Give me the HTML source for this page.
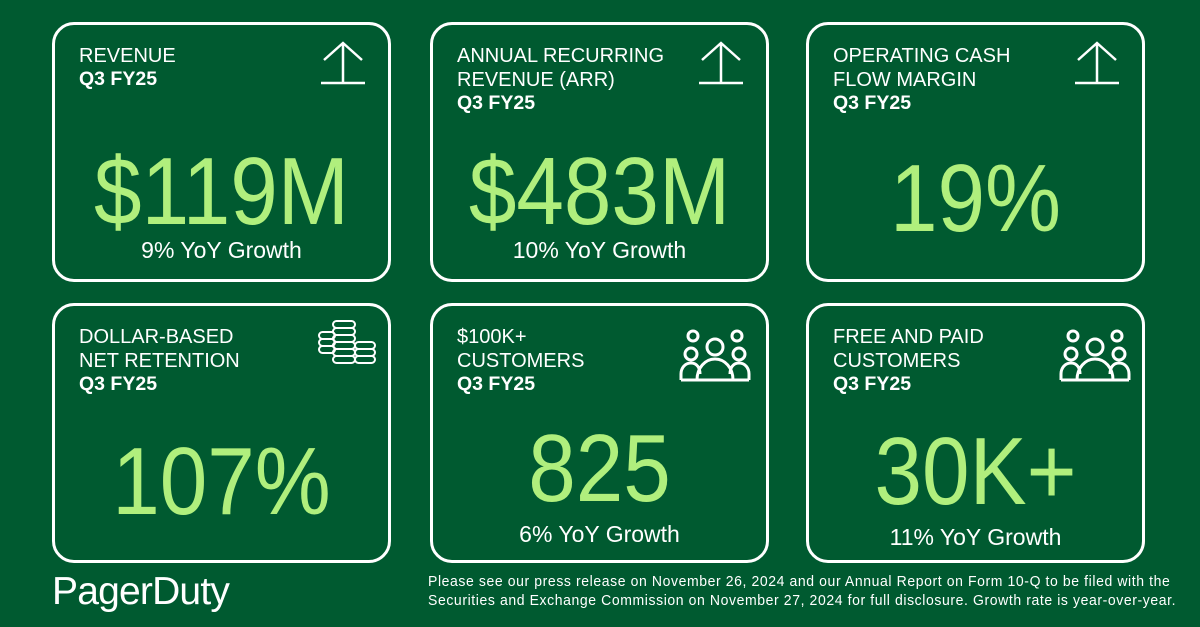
<!DOCTYPE html>
<html><head><meta charset="utf-8"><style>
*{margin:0;padding:0;box-sizing:border-box}
body{width:1200px;height:627px;background:#005a30;font-family:"Liberation Sans",sans-serif;color:#fff;position:relative;overflow:hidden}
.card{position:absolute;border:3px solid #fff;border-radius:22px;width:339px;height:260px}
.lbl{position:absolute;left:24px;top:19px;font-size:20px;line-height:24px}
.lbl b{font-size:19.5px;display:block;line-height:22px}
.big{position:absolute;left:0;right:0;text-align:center;color:#b0ef7d;font-size:96px;line-height:96px;transform:scaleX(0.89)}
.gr{position:absolute;left:0;right:0;text-align:center;font-size:23px;line-height:23px}
.ic{position:absolute}
.disc{position:absolute;left:428px;top:573px;font-size:14.6px;line-height:19px;color:#fff;white-space:nowrap;transform:scaleX(0.96);transform-origin:0 0;letter-spacing:0.62px}
</style></head><body>

<div class="card" style="left:52px;top:22px">
 <div class="lbl">REVENUE<b>Q3 FY25</b></div>
 <svg class="ic" style="left:264px;top:15px" width="48" height="48" viewBox="0 0 48 48" fill="none" stroke="#fff" stroke-width="2.5"><path d="M24 3V42M5 20L24 3L43 20M2 43H46"/></svg>
 <div class="big" style="top:119px">$119M</div>
 <div class="gr" style="top:214px">9% YoY Growth</div>
</div>

<div class="card" style="left:430px;top:22px">
 <div class="lbl">ANNUAL RECURRING<br>REVENUE (ARR)<b>Q3 FY25</b></div>
 <svg class="ic" style="left:264px;top:15px" width="48" height="48" viewBox="0 0 48 48" fill="none" stroke="#fff" stroke-width="2.5"><path d="M24 3V42M5 20L24 3L43 20M2 43H46"/></svg>
 <div class="big" style="top:119px">$483M</div>
 <div class="gr" style="top:214px">10% YoY Growth</div>
</div>

<div class="card" style="left:806px;top:22px">
 <div class="lbl">OPERATING CASH<br>FLOW MARGIN<b>Q3 FY25</b></div>
 <svg class="ic" style="left:264px;top:15px" width="48" height="48" viewBox="0 0 48 48" fill="none" stroke="#fff" stroke-width="2.5"><path d="M24 3V42M5 20L24 3L43 20M2 43H46"/></svg>
 <div class="big" style="top:126px">19%</div>
</div>

<div class="card" style="left:52px;top:303px">
 <div class="lbl">DOLLAR-BASED<br>NET RETENTION<b>Q3 FY25</b></div>
 <svg class="ic" style="left:262px;top:12px" width="62" height="50" viewBox="0 0 62 50" fill="none" stroke="#fff" stroke-width="2">
  <g><rect x="16" y="3" width="22" height="7" rx="3.5"/><rect x="16" y="10" width="22" height="7" rx="3.5"/><rect x="16" y="17" width="22" height="7" rx="3.5"/><rect x="16" y="24" width="22" height="7" rx="3.5"/><rect x="16" y="31" width="22" height="7" rx="3.5"/><rect x="16" y="38" width="22" height="7" rx="3.5"/></g>
  <g><rect x="2" y="14" width="16" height="7" rx="3.5"/><rect x="2" y="21" width="16" height="7" rx="3.5"/><rect x="2" y="28" width="16" height="7" rx="3.5"/></g>
  <g><rect x="38" y="24" width="20" height="7" rx="3.5"/><rect x="38" y="31" width="20" height="7" rx="3.5"/><rect x="38" y="38" width="20" height="7" rx="3.5"/></g>
 </svg>
 <div class="big" style="top:128px">107%</div>
</div>

<div class="card" style="left:430px;top:303px">
 <div class="lbl">$100K+<br>CUSTOMERS<b>Q3 FY25</b></div>
 <svg class="ic" style="left:246px;top:22px" width="72" height="56" viewBox="0 0 72 56" fill="none" stroke="#fff" stroke-width="3">
  <circle cx="14" cy="8" r="5"/><circle cx="58" cy="8" r="5"/>
  <circle cx="36" cy="19" r="8"/><circle cx="12" cy="26" r="6"/><circle cx="60" cy="26" r="6"/>
  <path d="M2 52V46C2 40 6 35 12 35C18 35 21 40 21 46"/><path d="M70 52V46C70 40 66 35 60 35C54 35 51 40 51 46"/>
  <path d="M18 52C18 40 26 31 36 31C46 31 54 40 54 52Z"/><path d="M2 52H70"/>
 </svg>
 <div class="big" style="top:115px">825</div>
 <div class="gr" style="top:217px">6% YoY Growth</div>
</div>

<div class="card" style="left:806px;top:303px">
 <div class="lbl">FREE AND PAID<br>CUSTOMERS<b>Q3 FY25</b></div>
 <svg class="ic" style="left:250px;top:22px" width="72" height="56" viewBox="0 0 72 56" fill="none" stroke="#fff" stroke-width="3">
  <circle cx="14" cy="8" r="5"/><circle cx="58" cy="8" r="5"/>
  <circle cx="36" cy="19" r="8"/><circle cx="12" cy="26" r="6"/><circle cx="60" cy="26" r="6"/>
  <path d="M2 52V46C2 40 6 35 12 35C18 35 21 40 21 46"/><path d="M70 52V46C70 40 66 35 60 35C54 35 51 40 51 46"/>
  <path d="M18 52C18 40 26 31 36 31C46 31 54 40 54 52Z"/><path d="M2 52H70"/>
 </svg>
 <div class="big" style="top:118px">30K+</div>
 <div class="gr" style="top:220px">11% YoY Growth</div>
</div>

<div style="position:absolute;left:52px;top:570px;font-size:39px;line-height:44px;letter-spacing:-0.8px">PagerDuty</div>
<div class="disc">Please see our press release on November 26, 2024 and our Annual Report on Form 10-Q to be filed with the<br>Securities and Exchange Commission on November 27, 2024 for full disclosure. Growth rate is year-over-year.</div>
</body></html>
